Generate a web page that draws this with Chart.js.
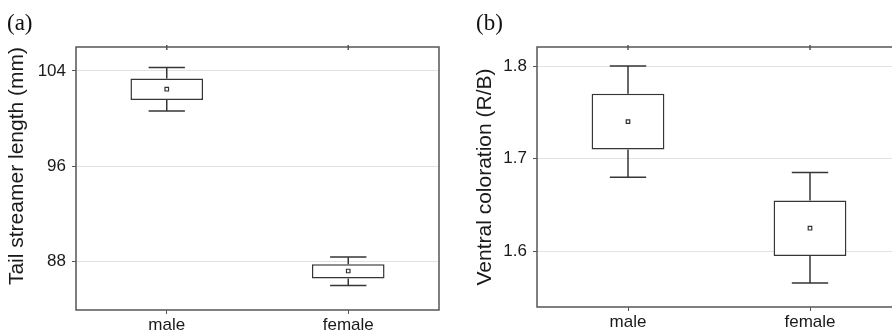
<!DOCTYPE html>
<html>
<head>
<meta charset="utf-8">
<script src="https://cdn.jsdelivr.net/npm/chart.js@4.4.0/dist/chart.umd.min.js"></script>
<style>
  html, body { margin: 0; padding: 0; background: #fff; overflow: hidden; width: 892px; height: 331px; }
  .panel { position: absolute; top: 0; }
  .tag { position: absolute; font-family: 'Liberation Serif', 'Times New Roman', serif; font-size: 23px; color: #111; }
</style>
</head>
<body>
<canvas id="chartA" class="panel" style="left:0" width="445" height="331"></canvas>
<canvas id="chartB" class="panel" style="left:468px" width="439" height="331"></canvas>
<div class="tag" style="left:7px;top:10px">(a)</div>
<div class="tag" style="left:476px;top:10px">(b)</div>
<script>
const categories = ['male', 'female'];

// (a) tail streamer length (mm)
const tailWhiskerLow = [100.64, 86.0];
const tailBoxLow = [101.56, 86.6];
const tailMean = [102.46, 87.22];
const tailBoxHigh = [103.35, 87.78];
const tailWhiskerHigh = [104.28, 88.39];
const tailTicks = [88, 96, 104];

// (b) ventral coloration (R/B)
const ventralWhiskerLow = [1.68, 1.566];
const ventralBoxLow = [1.71, 1.595];
const ventralMean = [1.74, 1.625];
const ventralBoxHigh = [1.77, 1.655];
const ventralWhiskerHigh = [1.80, 1.685];
const ventralTicks = [1.6, 1.7, 1.8];

const FONT = "'Liberation Sans', Arial, sans-serif";
const INK = '#363636';

// whiskers, frame and top ticks - all placed through the chart scales
function makeWhiskers(low, boxLow, boxHigh, high) {
    return {
        id: 'whiskers',
        afterDatasetsDraw(chart) {
            const { ctx, chartArea, scales: { x, y } } = chart;
            const bars = chart.getDatasetMeta(0).data;
            ctx.save();
            ctx.strokeStyle = INK;
            ctx.lineWidth = 1.5;
            low.forEach((lo, i) => {
                const cx = x.getPixelForValue(i);
                const half = bars[i].width / 4;
                [[boxLow[i], lo], [boxHigh[i], high[i]]].forEach(([from, to]) => {
                    const y0 = y.getPixelForValue(from);
                    const y1 = y.getPixelForValue(to);
                    ctx.beginPath();
                    ctx.moveTo(cx, y0);
                    ctx.lineTo(cx, y1);
                    ctx.moveTo(cx - half, y1);
                    ctx.lineTo(cx + half, y1);
                    ctx.stroke();
                });
            });
            // frame
            ctx.strokeStyle = '#555';
            ctx.strokeRect(chartArea.left, chartArea.top, chartArea.right - chartArea.left, chartArea.bottom - chartArea.top);
            x.ticks.forEach((t, i) => {
                const px = x.getPixelForValue(i);
                ctx.beginPath();
                ctx.moveTo(px, chartArea.top - 2);
                ctx.lineTo(px, chartArea.top + 3);
                ctx.stroke();
            });
            ctx.restore();
        }
    };
}

function makeChart(id, s) {
    return new Chart(document.getElementById(id), {
        type: 'bar',
        data: {
            labels: categories,
            datasets: [
                {
                    data: s.boxLow.map((v, i) => [v, s.boxHigh[i]]),
                    backgroundColor: '#fff',
                    borderColor: INK,
                    borderWidth: 1.5,
                    borderSkipped: false,
                    barPercentage: 0.4,
                    categoryPercentage: 1,
                    order: 1,
                },
                {
                    type: 'line',
                    data: s.mean,
                    showLine: false,
                    pointStyle: 'rect',
                    pointRadius: 2.5,
                    pointBackgroundColor: '#fff',
                    pointBorderColor: '#333',
                    pointBorderWidth: 1.2,
                    order: 0,
                }
            ]
        },
        options: {
            responsive: false,
            animation: false,
            events: [],
            layout: { padding: { top: 47, right: 6, left: 0, bottom: 0 } },
            plugins: {
                legend: { display: false },
                tooltip: { enabled: false }
            },
            scales: {
                x: {
                    grid: { drawOnChartArea: false, offset: false, tickLength: 4, color: '#555' },
                    border: { display: false },
                    ticks: { color: '#1a1a1a', font: { family: FONT, size: 17 }, padding: 1 },
                    afterFit: sc => { sc.height = s.xHeight; }
                },
                y: {
                    min: s.min,
                    max: s.max,
                    afterBuildTicks: sc => { sc.ticks = s.ticks.map(v => ({ value: v })); },
                    grid: { color: '#e2e2e2', tickColor: '#555', tickLength: 4 },
                    border: { display: false },
                    ticks: {
                        color: '#1a1a1a',
                        font: { family: FONT, size: 17 },
                        padding: 6,
                        callback: v => s.fmt(v)
                    },
                    title: {
                        display: true,
                        text: s.title,
                        align: s.titleAlign,
                        color: '#1a1a1a',
                        font: { family: FONT, size: 21 },
                        padding: { top: 5, bottom: 0 }
                    },
                    afterFit: sc => { sc.width = s.yWidth; }
                }
            }
        },
        plugins: [makeWhiskers(s.low, s.boxLow, s.boxHigh, s.high)]
    });
}

makeChart('chartA', {
    low: tailWhiskerLow, boxLow: tailBoxLow, mean: tailMean, boxHigh: tailBoxHigh, high: tailWhiskerHigh,
    ticks: tailTicks, min: 83.95, max: 106.0, fmt: v => String(v),
    title: 'Tail streamer length (mm)', titleAlign: 'end', yWidth: 76, xHeight: 21
});

makeChart('chartB', {
    low: ventralWhiskerLow, boxLow: ventralBoxLow, mean: ventralMean, boxHigh: ventralBoxHigh, high: ventralWhiskerHigh,
    ticks: ventralTicks, min: 1.54, max: 1.8205, fmt: v => v.toFixed(1),
    title: 'Ventral coloration (R/B)', titleAlign: 'center', yWidth: 69, xHeight: 24
});
</script>
</body>
</html>
